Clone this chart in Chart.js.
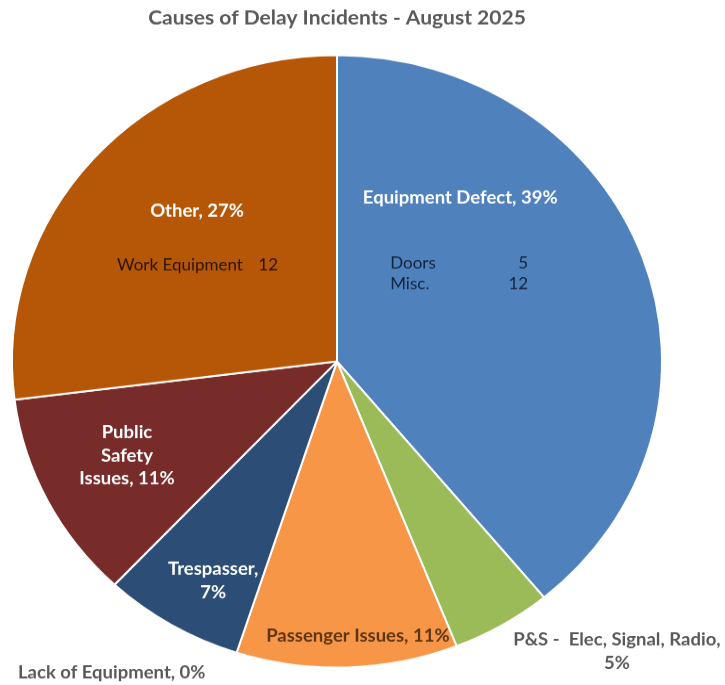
<!DOCTYPE html>
<html>
<head>
<meta charset="utf-8">
<title>Causes of Delay Incidents</title>
<script src="https://cdn.jsdelivr.net/npm/chart.js@4"></script>
<style>
    html, body { margin: 0; padding: 0; background: #fff; overflow: hidden; }
    /* the pie is drawn slightly wider than tall */
    #wrap { width: 725px; height: 727px; transform: scaleY(0.9422); transform-origin: 0 0; }
</style>
</head>
<body>
<div id="wrap"><canvas id="delayChart" width="725" height="727"></canvas></div>
<script>
"use strict"

// Causes, clockwise from 12 o'clock
const causes = ["Equipment Defect", "P&S -  Elec, Signal, Radio", "Passenger Issues", "Lack of Equipment", "Trespasser", "Public Safety Issues", "Other"];
const percents = [39, 5, 11, 0, 7, 11, 27];
const sliceColors = ["#4f81bd", "#9bbb59", "#f79646", "#8064a2", "#2c4d75", "#772c2a", "#b65708"];

// Breakdowns listed under two of the labels
const equipmentItems = ["Doors", "Misc."];
const equipmentCounts = [5, 12];
const otherItems = ["Work Equipment"];
const otherCounts = [12];

const FONT = "Lato";
const GREY = "#595959";

// Where each label sits: turn = degrees from the slice middle, dist = fraction of radius
// words = how many words go on each line
const labelPlaces = [
    { turn: -34.9, dist: 0.656, color: "#ffffff", words: null,
      table: { items: equipmentItems, counts: equipmentCounts, color: "#15243d", left: -70, right: 68, top: 70, step: 21.5 } },
    { turn: -11.7, dist: 1.28, color: GREY, words: [6, 1] },
    { turn: -2.3, dist: 0.898, color: "#5e3512", words: null },
    { turn: 16.3, dist: 1.23, color: GREY, words: null },
    { turn: -2.6, dist: 0.812, color: "#ffffff", words: [1, 1] },
    { turn: 1.5, dist: 0.716, color: "#ffffff", words: [1, 1, 2] },
    { turn: 7.4, dist: 0.654, color: "#ffffff", words: null,
      table: { items: otherItems, counts: otherCounts, color: "#2b1400", left: -80, right: 81, top: 58, step: 21.5 } }
];

function SplitLabel(text, words) {
    if (!words) return [text];
    let parts = text.split(" ");
    let lines = [];
    let pos = 0;
    for (let n of words) {
        lines.push(parts.slice(pos, pos + n).join(" "));
        pos += n;
    }
    return lines;
}

const sliceLabels = {
    id: "sliceLabels",
    afterDatasetsDraw(chart) {
        const ctx = chart.ctx;
        const arcs = chart.getDatasetMeta(0).data;
        const values = chart.data.datasets[0].data;
        const lineHeight = 24.5;

        ctx.save();
        ctx.textAlign = "center";
        ctx.textBaseline = "middle";

        arcs.forEach((arc, i) => {
            const { x, y, startAngle, endAngle, outerRadius } =
                arc.getProps(["x", "y", "startAngle", "endAngle", "outerRadius"], true);
            const place = labelPlaces[i];

            // Anchor point for the label block
            const angle = (startAngle + endAngle) / 2 + place.turn * Math.PI / 180;
            const cx = x + Math.cos(angle) * outerRadius * place.dist;
            const cy = y + Math.sin(angle) * outerRadius * place.dist;

            const lines = SplitLabel(`${chart.data.labels[i]}, ${values[i]}%`, place.words);
            ctx.font = `bold 18.5px ${FONT}`;
            ctx.fillStyle = place.color;
            lines.forEach((line, k) => {
                ctx.fillText(line, cx, cy + (k - (lines.length - 1) / 2) * lineHeight);
            });

            // Small item / count table
            if (place.table) {
                const t = place.table;
                ctx.font = `17px ${FONT}`;
                ctx.fillStyle = t.color;
                t.items.forEach((item, k) => {
                    const rowY = cy + t.top + k * t.step;
                    ctx.textAlign = "left";
                    ctx.fillText(item, cx + t.left, rowY);
                    ctx.textAlign = "right";
                    ctx.fillText(String(t.counts[k]), cx + t.right, rowY);
                });
                ctx.textAlign = "center";
            }
        });
        ctx.restore();
    }
};

new Chart(document.getElementById("delayChart"), {
    type: "pie",
    data: {
        labels: causes,
        datasets: [{
            data: percents,
            backgroundColor: sliceColors,
            borderColor: "#ffffff",
            borderWidth: 2,
            hoverOffset: 0
        }]
    },
    options: {
        responsive: false,
        animation: false,
        events: [],
        layout: {
            padding: { top: 0, left: 11, right: 62, bottom: 17.4 }
        },
        plugins: {
            legend: { display: false },
            tooltip: { enabled: false },
            title: {
                display: true,
                text: "Causes of Delay Incidents - August 2025",
                color: GREY,
                font: { family: FONT, size: 21, weight: "bold" },
                padding: { top: 6.4, bottom: 26 }
            }
        }
    },
    plugins: [sliceLabels]
});
</script>
</body>
</html>
